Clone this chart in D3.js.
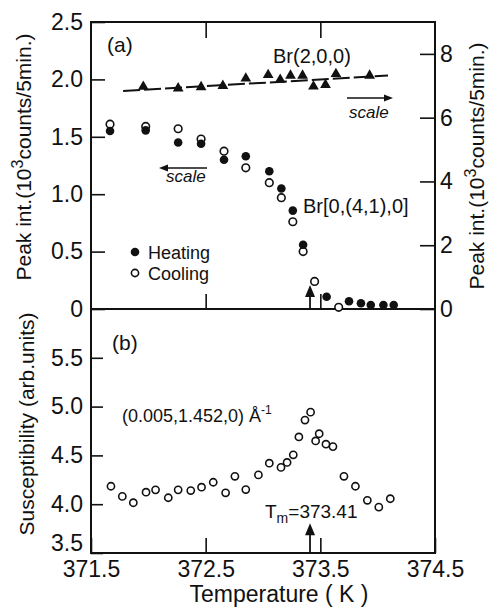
<!doctype html>
<html>
<head>
<script src="https://d3js.org/d3.v7.min.js"></script>
<style>
  body { margin: 0; background: #fff; }
  text { font-family: "Liberation Sans", Arial, sans-serif; fill: #111; }
</style>
</head>
<body>
<script>
// ---- data ----
// panel (a): Br[0,(4,1),0] peak intensity (left scale, 10^3 counts / 5 min)
var heatT = [371.666, 371.977, 372.26, 372.46, 372.66, 372.85, 373.055, 373.16, 373.26, 373.35, 373.555, 373.75, 373.854, 373.94, 374.05, 374.14];
var heatV = [1.55, 1.556, 1.45, 1.44, 1.30, 1.33, 1.20, 1.05, 0.857, 0.56, 0.107, 0.067, 0.05, 0.035, 0.035, 0.035];
var coolT = [371.666, 371.977, 372.26, 372.46, 372.66, 372.85, 373.055, 373.16, 373.26, 373.35, 373.45, 373.66];
var coolV = [1.61, 1.59, 1.57, 1.48, 1.375, 1.23, 1.10, 0.97, 0.76, 0.50, 0.24, 0.015];
// panel (a): Br(2,0,0) (right scale)
var braggT = [371.956, 372.26, 372.46, 372.65, 372.85, 373.045, 373.15, 373.24, 373.345, 373.44, 373.545, 373.636, 373.93];
var braggV = [6.97, 6.92, 6.96, 7.0, 7.23, 7.34, 7.19, 7.32, 7.32, 6.98, 7.03, 7.37, 7.32];
var braggLineT = [371.78, 374.09];
var braggLineV = [6.84, 7.32];
// panel (b): susceptibility at (0.005,1.452,0)
var suscT = [371.674, 371.773, 371.869, 371.98, 372.063, 372.174, 372.26, 372.37, 372.464, 372.566, 372.674, 372.755, 372.85, 372.96, 373.055, 373.157, 373.21, 373.264, 373.313, 373.366, 373.415, 373.459, 373.49, 373.549, 373.61, 373.706, 373.806, 373.91, 374.01, 374.11];
var suscV = [4.184, 4.08, 4.015, 4.123, 4.147, 4.066, 4.147, 4.14, 4.174, 4.225, 4.117, 4.286, 4.15, 4.30, 4.42, 4.377, 4.428, 4.506, 4.689, 4.862, 4.943, 4.648, 4.722, 4.615, 4.59, 4.286, 4.184, 4.04, 3.97, 4.056];
var Tm = 373.41;
var xTicks = [371.5, 372.5, 373.5, 374.5];
var leftATicks = [0, 0.5, 1.0, 1.5, 2.0, 2.5];
var rightATicks = [0, 2, 4, 6, 8];
var leftBTicks = [3.5, 4.0, 4.5, 5.0, 5.5];

var width = 491, height = 607;
var pLeft = 91, pRight = 435, pTop = 22, pMid = 309, pBottom = 553;

var svg = d3.select("body").append("svg")
    .attr("width", width).attr("height", height);

var x = d3.scaleLinear().domain([371.5, 374.5]).range([pLeft, pRight]);
var yA = d3.scaleLinear().domain([0, 2.5]).range([pMid, pTop]);
var yR = d3.scaleLinear().domain([0, 9]).range([pMid, pTop]);
var yB = d3.scaleLinear().domain([3.5, 6.0]).range([pBottom, pMid]);

var fmt1 = function(d) { return d === 0 ? "0" : d3.format(".1f")(d); };

function styleAxis(g, size) {
  g.select(".domain").remove();
  g.selectAll(".tick line").attr("stroke", "#111").attr("stroke-width", 1.6);
  g.selectAll("text").style("font-size", size + "px").attr("fill", "#111");
}

// panel (a) axes
svg.append("g").attr("transform", "translate(" + pLeft + ",0)")
  .call(d3.axisLeft(yA).tickValues(leftATicks).tickFormat(fmt1).tickSize(-14).tickPadding(8))
  .call(styleAxis, 23);
svg.append("g").attr("transform", "translate(" + pRight + ",0)")
  .call(d3.axisRight(yR).tickValues(rightATicks).tickFormat(d3.format("d")).tickSize(-15).tickPadding(5))
  .call(styleAxis, 23);
svg.append("g").attr("transform", "translate(0," + pTop + ")")
  .call(d3.axisTop(x).tickValues([372.5, 373.5]).tickFormat("").tickSize(-16))
  .call(styleAxis, 23);
svg.append("g").attr("transform", "translate(0," + pMid + ")")
  .call(d3.axisBottom(x).tickValues([372.5, 373.5]).tickFormat("").tickSize(-15))
  .call(styleAxis, 23);

// panel (b) axes
var yBAxis = svg.append("g").attr("transform", "translate(" + pLeft + ",0)")
  .call(d3.axisLeft(yB).tickValues(leftBTicks).tickFormat(d3.format(".1f")).tickSize(-12).tickPadding(8))
  .call(styleAxis, 23);
yBAxis.selectAll(".tick text").filter(function(d) { return d === 3.5; }).attr("dy", "-0.1em");
svg.append("g").attr("transform", "translate(0," + pBottom + ")")
  .call(d3.axisBottom(x).tickValues(xTicks).tickFormat(d3.format(".1f")).tickSize(-15).tickPadding(6))
  .call(styleAxis, 23)
  .selectAll("text").attr("dy", "0.77em");

// frames
svg.append("rect").attr("x", pLeft).attr("y", pTop).attr("width", pRight - pLeft).attr("height", pMid - pTop)
  .attr("fill", "none").attr("stroke", "#111").attr("stroke-width", 2);
svg.append("rect").attr("x", pLeft).attr("y", pMid).attr("width", pRight - pLeft).attr("height", pBottom - pMid)
  .attr("fill", "none").attr("stroke", "#111").attr("stroke-width", 2);

// axis titles
function peakLabel(cx, cy) {
  var t = svg.append("text").attr("transform", "translate(" + cx + "," + cy + ") rotate(-90)")
    .attr("text-anchor", "middle").style("font-size", "21px");
  t.append("tspan").text("Peak int.(10");
  t.append("tspan").attr("dy", -8).style("font-size", "16px").text("3");
  t.append("tspan").attr("dy", 8).text("counts/5min.)");
}
peakLabel(31, 157);
peakLabel(484, 166);
svg.append("text").attr("transform", "translate(34,424) rotate(-90)")
  .attr("text-anchor", "middle").style("font-size", "21px").text("Susceptibility (arb.units)");
svg.append("text").attr("x", (pLeft + pRight) / 2 + 16).attr("y", 602)
  .attr("text-anchor", "middle").style("font-size", "23px").text("Temperature ( K )");

// ---- panel (a) marks ----
var bragg = braggT.map(function(t, i) { return [t, braggV[i]]; });
svg.append("path")
  .datum(braggLineT.map(function(t, i) { return [t, braggLineV[i]]; }))
  .attr("fill", "none").attr("stroke", "#111").attr("stroke-width", 2)
  .attr("stroke-dasharray", "17,4")
  .attr("d", d3.line().x(function(d) { return x(d[0]); }).y(function(d) { return yR(d[1]); }));
svg.append("g").selectAll("path").data(bragg).join("path")
  .attr("transform", function(d) { return "translate(" + x(d[0]) + "," + yR(d[1]) + ")"; })
  .attr("d", d3.symbol(d3.symbolTriangle, 50))
  .attr("fill", "#111");

svg.append("g").selectAll("circle").data(coolT).join("circle")
  .attr("cx", function(d) { return x(d); })
  .attr("cy", function(d, i) { return yA(coolV[i]); })
  .attr("r", 3.8).attr("fill", "#fff").attr("stroke", "#111").attr("stroke-width", 1.6);
svg.append("g").selectAll("circle").data(heatT).join("circle")
  .attr("cx", function(d) { return x(d); })
  .attr("cy", function(d, i) { return yA(heatV[i]); })
  .attr("r", 4.3).attr("fill", "#111");

// Tm arrows
function tmArrow(y0, y1) {
  svg.append("line").attr("x1", x(Tm)).attr("x2", x(Tm)).attr("y1", y0).attr("y2", y1 + 8)
    .attr("stroke", "#111").attr("stroke-width", 1.8);
  svg.append("path")
    .attr("d", "M" + x(Tm) + "," + y1 + "l-5,12h10z").attr("fill", "#111");
}
tmArrow(pMid, yA(0.21));
tmArrow(pBottom, yB(3.805));

// annotations (a)
function label(px, py, s, size, extra) {
  var t = svg.append("text").attr("x", px).attr("y", py).style("font-size", size + "px").text(s);
  if (extra) t.style("font-style", extra);
  return t;
}
label(107, 52, "(a)", 21);
label(273, 63, "Br(2,0,0)", 20);
label(303, 213, "Br[0,(4,1),0]", 20);
label(349, 118, "scale", 17, "italic");
label(166, 182, "scale", 17, "italic");
svg.append("line").attr("x1", 347).attr("x2", 385).attr("y1", 98).attr("y2", 98).attr("stroke", "#111").attr("stroke-width", 1.6);
svg.append("path").attr("d", "M393,98l-9,-3.5v7z").attr("fill", "#111");
svg.append("line").attr("x1", 167).attr("x2", 207).attr("y1", 168).attr("y2", 168).attr("stroke", "#111").attr("stroke-width", 1.6);
svg.append("path").attr("d", "M159,168l9,-3.5v7z").attr("fill", "#111");

// legend
svg.append("circle").attr("cx", 135).attr("cy", 252).attr("r", 4.3).attr("fill", "#111");
label(148, 259, "Heating", 18);
svg.append("circle").attr("cx", 135).attr("cy", 273).attr("r", 3.6).attr("fill", "#fff").attr("stroke", "#111").attr("stroke-width", 1.6);
label(148, 280, "Cooling", 18);

// ---- panel (b) marks ----
svg.append("g").selectAll("circle").data(suscT).join("circle")
  .attr("cx", function(d) { return x(d); })
  .attr("cy", function(d, i) { return yB(suscV[i]); })
  .attr("r", 3.6).attr("fill", "none").attr("stroke", "#111").attr("stroke-width", 1.6);

label(112, 350, "(b)", 21);
var q = label(122, 422, "(0.005,1.452,0)", 18);
q.append("tspan").text(" \u00C5");
q.append("tspan").attr("dy", -8).style("font-size", "12px").text("-1");
var tm = label(265, 518, "T", 19);
tm.append("tspan").attr("dy", 5).style("font-size", "14px").text("m");
tm.append("tspan").attr("dy", -5).text("=373.41");
</script>
</body>
</html>
